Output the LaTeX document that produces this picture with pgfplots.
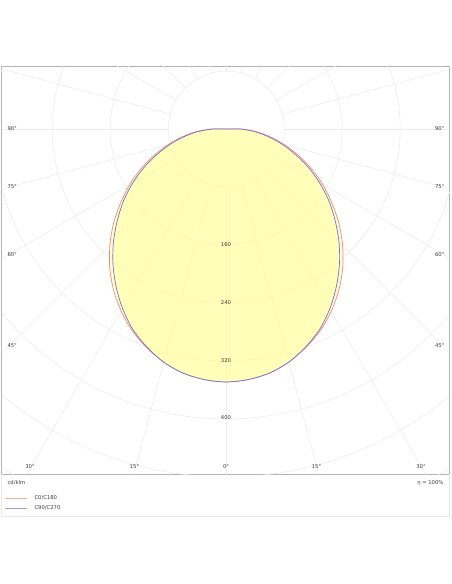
\documentclass[border=0pt]{standalone}
\usepackage{fontspec}
\setmainfont{DejaVu Sans}
\usepackage{pgfplots}
\pgfplotsset{compat=1.18}
\usepackage{pgfplotstable}
\definecolor{cred}{RGB}{242,140,120}
\definecolor{cblue}{RGB}{115,110,215}
\definecolor{cfill}{RGB}{255,255,150}
\definecolor{cgrid}{RGB}{236,236,236}
\definecolor{ctext}{RGB}{60,60,60}
\newcommand{\lbl}{\fontsize{5.3}{6}\selectfont\color{ctext}}

% C0/C180 : angle from nadir (deg), intensity (cd/klm)
\pgfplotstableread{
a I
-90 22
-85 42
-80 62
-75 83
-70 106
-65 130
-60 154
-55 178
-50 203
-45 227
-40 250
-35 271
-30 290
-25 307
-20 321
-15 333
-10 342
-5 347
0 349
5 347
10 342
15 333
20 321
25 307
30 290
35 271
40 250
45 227
50 203
55 178
60 154
65 130
70 106
75 83
80 62
85 42
90 22
90 0
-90 22
}\redtab

% C90/C270
\pgfplotstableread{
a I
-90 19
-85 39
-80 58
-75 79
-70 101
-65 125
-60 149
-55 173
-50 196
-45 220
-40 243
-35 265
-30 286
-25 305
-20 320
-15 333
-10 342
-5 347
0 349
5 347
10 342
15 333
20 320
25 305
30 286
35 265
40 243
45 220
50 196
55 173
60 149
65 125
70 101
75 79
80 58
85 39
90 19
90 0
-90 19
}\bluetab

\begin{document}
\begin{tikzpicture}[x=1bp,y=1bp]
\path[use as bounding box] (0,0) rectangle (452,-584);
\begin{axis}[
  at={(1.5bp,-66bp)}, anchor=north west,
  scale only axis, width=448bp, height=408bp,
  xmin=-310, xmax=308, ymin=-476, ymax=87,
  xtick=\empty, ytick=\empty,
  axis line style={draw=gray!60, line width=0.9bp},
  clip=true]
  \pgfplotsinvokeforeach{80,160,...,720}{
    \draw[cgrid, line width=0.6bp] (axis cs:0,0) circle[radius=#1];
  }
  \pgfplotsinvokeforeach{0,15,...,345}{
    \draw[cgrid, line width=0.6bp] (axis cs:{80*cos(#1)},{80*sin(#1)}) -- (axis cs:{900*cos(#1)},{900*sin(#1)});
  }
  \addplot[cred, smooth, tension=0.5, line width=0.7bp, fill=cfill, fill opacity=0.42, draw opacity=1]
    table[x expr={\thisrow{I}*sin(\thisrow{a})}, y expr={-\thisrow{I}*cos(\thisrow{a})}]{\redtab};
  \addplot[cblue, smooth, tension=0.5, line width=0.7bp, fill=cfill, fill opacity=0.42, draw opacity=1]
    table[x expr={\thisrow{I}*sin(\thisrow{a})}, y expr={-\thisrow{I}*cos(\thisrow{a})}]{\bluetab};
\end{axis}
% distance labels
\node[font=\lbl] at (226,-245) {160};
\node[font=\lbl] at (226,-303) {240};
\node[font=\lbl] at (226,-361) {320};
\node[font=\lbl] at (226,-418) {400};
% angle labels left
\node[font=\lbl, anchor=west] at (4,-129) {90°};
\node[font=\lbl, anchor=west] at (4,-187) {75°};
\node[font=\lbl, anchor=west] at (4,-255) {60°};
\node[font=\lbl, anchor=west] at (4,-346) {45°};
% angle labels right
\node[font=\lbl, anchor=east] at (448,-129) {90°};
\node[font=\lbl, anchor=east] at (448,-187) {75°};
\node[font=\lbl, anchor=east] at (448,-255) {60°};
\node[font=\lbl, anchor=east] at (448,-346) {45°};
% bottom angle labels
\node[font=\lbl] at (30,-467) {30°};
\node[font=\lbl] at (134.5,-467) {15°};
\node[font=\lbl] at (226,-467) {0°};
\node[font=\lbl] at (316.5,-467) {15°};
\node[font=\lbl] at (421,-467) {30°};
% legend panel
\draw[gray!18, line width=0.7bp] (1.5,-474) -- (1.5,-516.5) -- (449.5,-516.5) -- (449.5,-474);
\node[font=\lbl, anchor=west] at (4,-483) {cd/klm};
\node[font=\lbl, anchor=east] at (447,-483) {η = 100\%};
\draw[cred!70, line width=0.7bp] (5,-498) -- (27,-498);
\node[font=\lbl, anchor=west] at (31,-498) {C0/C180};
\draw[cblue!70, line width=0.7bp] (5,-508) -- (27,-508);
\node[font=\lbl, anchor=west] at (31,-508) {C90/C270};
\end{tikzpicture}
\end{document}
